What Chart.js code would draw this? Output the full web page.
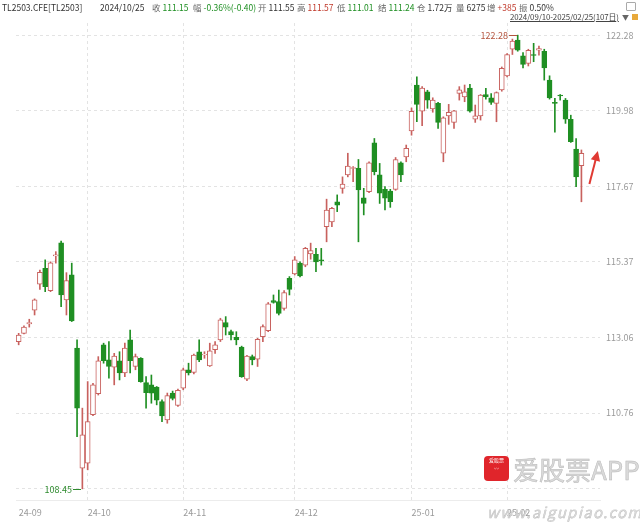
<!DOCTYPE html>
<html>
<head>
<meta charset="utf-8">
<script src="https://cdn.jsdelivr.net/npm/chart.js@4.4.1/dist/chart.umd.min.js"></script>
<style>
  html, body { margin: 0; padding: 0; background: #fff; }
  #wrap { position: relative; width: 640px; height: 527px; overflow: hidden;
          font-family: "Noto Sans CJK SC", "Noto Sans", sans-serif; }
  #kline { position: absolute; left: 0; top: 0; }
  .hd { position: absolute; top: 1px; font-size: 8.5px; line-height: 12px; color: #666; white-space: nowrap; }
  .hd span { margin-left: 2px; }
  .g { color: #1f8f23; }
  .r { color: #c0392b; }
  .k { color: #333; }
  #range { position: absolute; top: 11px; left: 510px; font-size: 7.9px; line-height: 12px; color: #444;
           text-decoration: underline; white-space: nowrap; letter-spacing: -0.1px; }
  #tri { position: absolute; top: 11px; left: 622px; font-size: 7px; line-height: 12px; color: #666; }
  #ico1 { position: absolute; top: 2px; left: 626px; width: 8px; height: 7px; border: 1px solid #aaa; border-radius: 1px; }
  #ico2 { position: absolute; top: 14px; left: 632px; width: 6px; height: 6px; background: #e8a93a; }
  #wm-icon { position: absolute; left: 484px; top: 456px; width: 25px; height: 25px; background: #e0252b;
             border-radius: 4px; color: #fff; font-size: 5px; line-height: 8px; text-align: center; }
  #wm-text { position: absolute; left: 513px; top: 452px; font-size: 26px; line-height: 34px; color: #dadada;
             -webkit-text-stroke: 0.5px #b8b8b8; white-space: nowrap; }
  #wm-url { position: absolute; left: 487px; top: 503px; font-size: 15px; line-height: 18px; color: #dcdcdc;
            -webkit-text-stroke: 0.4px #bbbbbb; letter-spacing: 1.3px; font-style: italic; white-space: nowrap; }
</style>
</head>
<body>
<div id="wrap">
  <canvas id="kline" width="640" height="527"></canvas>

  <span class="hd k" style="left:2px">TL2503.CFE[TL2503]</span>
  <span class="hd k" style="left:100px">2024/10/25</span>
  <span class="hd" style="left:152px">收<span class="g">111.15</span></span>
  <span class="hd" style="left:193px">幅<span class="g">-0.36%(-0.40)</span></span>
  <span class="hd" style="left:258px">开<span class="k">111.55</span></span>
  <span class="hd" style="left:297px">高<span class="r">111.57</span></span>
  <span class="hd" style="left:337px">低<span class="g">111.01</span></span>
  <span class="hd" style="left:378px">结<span class="g">111.24</span></span>
  <span class="hd" style="left:417px">仓<span class="k">1.72万</span></span>
  <span class="hd" style="left:456px">量<span class="k">6275</span></span>
  <span class="hd" style="left:487px">增<span class="r">+385</span></span>
  <span class="hd" style="left:519px">振<span class="k">0.50%</span></span>
  <div id="ico1"></div>
  <span id="range">2024/09/10-2025/02/25(107日)</span>
  <span id="tri">▼</span>
  <div id="ico2"></div>

  <div id="wm-icon">爱股票<br>〰</div>
  <span id="wm-text">爱股票APP</span>
  <span id="wm-url">www.aigupiao.com</span>
</div>

<script>
// trading days 2024/09/10 - 2025/02/25
const tradeDates = [
  '2024-09-10', '2024-09-11', '2024-09-12', '2024-09-13', '2024-09-18', '2024-09-19', '2024-09-20',
  '2024-09-23', '2024-09-24', '2024-09-25', '2024-09-26', '2024-09-27', '2024-09-30',
  '2024-10-08', '2024-10-09', '2024-10-10', '2024-10-11', '2024-10-14', '2024-10-15', '2024-10-16',
  '2024-10-17', '2024-10-18', '2024-10-21', '2024-10-22', '2024-10-23', '2024-10-24', '2024-10-25',
  '2024-10-28', '2024-10-29', '2024-10-30', '2024-10-31',
  '2024-11-01', '2024-11-04', '2024-11-05', '2024-11-06', '2024-11-07', '2024-11-08', '2024-11-11',
  '2024-11-12', '2024-11-13', '2024-11-14', '2024-11-15', '2024-11-18', '2024-11-19', '2024-11-20',
  '2024-11-21', '2024-11-22', '2024-11-25', '2024-11-26', '2024-11-27', '2024-11-28', '2024-11-29',
  '2024-12-02', '2024-12-03', '2024-12-04', '2024-12-05', '2024-12-06', '2024-12-09', '2024-12-10',
  '2024-12-11', '2024-12-12', '2024-12-13', '2024-12-16', '2024-12-17', '2024-12-18', '2024-12-19',
  '2024-12-20', '2024-12-23', '2024-12-24', '2024-12-25', '2024-12-26', '2024-12-27', '2024-12-30',
  '2024-12-31',
  '2025-01-02', '2025-01-03', '2025-01-06', '2025-01-07', '2025-01-08', '2025-01-09', '2025-01-10',
  '2025-01-13', '2025-01-14', '2025-01-15', '2025-01-16', '2025-01-17', '2025-01-20', '2025-01-21',
  '2025-01-22', '2025-01-23', '2025-01-24', '2025-01-27',
  '2025-02-05', '2025-02-06', '2025-02-07', '2025-02-10', '2025-02-11', '2025-02-12', '2025-02-13',
  '2025-02-14', '2025-02-17', '2025-02-18', '2025-02-19', '2025-02-20', '2025-02-21', '2025-02-24',
  '2025-02-25'
];

const opens = [
  112.94, 113.19, 113.48, 113.90, 114.69, 115.17, 114.49, 115.55, 115.95, 114.21, 114.97, 112.74, 109.08,
  109.23, 110.71, 111.35, 112.84, 112.38, 112.16, 112.35, 111.98, 112.99, 112.18, 112.43, 111.69, 111.62,
  111.55, 111.11, 110.55, 111.37, 110.99,
  111.52, 112.08, 112.00, 112.63, 112.53, 112.20, 112.69, 112.99, 113.52, 113.24, 113.07, 112.77, 111.79,
  112.48, 112.40, 113.09, 113.27, 114.19, 114.16, 113.95, 114.87,
  115.00, 115.33, 115.27, 115.61, 115.60, 115.43, 116.44, 116.59, 117.20, 117.61, 118.02, 118.22, 118.22,
  117.32, 117.51, 119.00, 118.02, 117.58, 117.53, 117.58, 118.39, 118.57,
  119.36, 120.76, 119.96, 120.55, 120.03, 120.20, 118.68, 119.82, 119.62, 120.50, 120.40, 120.67, 119.72,
  119.82, 120.47, 120.37, 120.20, 120.61,
  121.04, 121.85, 122.13, 121.65, 121.42, 121.69, 121.82, 121.79, 120.91, 120.23, 120.45, 120.30, 119.71,
  118.81, 118.30
];

const highs = [
  113.19, 113.42, 113.62, 114.24, 115.12, 115.43, 115.37, 115.68, 116.00, 115.04, 115.33, 112.99, 110.91,
  111.72, 111.67, 112.48, 112.89, 112.94, 112.58, 112.63, 112.89, 113.29, 112.56, 112.45, 111.87, 111.92,
  111.57, 111.16, 111.37, 111.43, 111.49,
  112.13, 112.28, 112.56, 112.99, 112.63, 112.89, 112.94, 113.65, 113.70, 113.29, 113.24, 112.80, 112.52,
  112.53, 113.04, 113.45, 114.13, 114.36, 114.51, 114.49, 114.92,
  115.53, 115.37, 115.81, 115.94, 115.78, 115.78, 117.28, 117.03, 117.41, 117.96, 118.68, 118.27, 118.49,
  117.61, 118.42, 119.13, 118.37, 117.66, 117.58, 118.55, 118.42, 118.93,
  120.06, 121.01, 120.71, 120.60, 120.37, 120.23, 119.79, 120.17, 119.99, 120.71, 120.76, 120.78, 120.15,
  120.47, 120.66, 120.50, 120.55, 121.31,
  121.72, 122.16, 122.28, 121.75, 121.85, 122.03, 121.95, 121.85, 121.04, 120.35, 120.47, 120.35, 119.84,
  119.13, 118.78
];

const lows = [
  112.84, 113.17, 113.38, 113.75, 114.53, 114.46, 114.46, 115.33, 114.00, 113.75, 113.55, 110.04, 108.45,
  109.03, 110.68, 111.31, 112.28, 111.82, 111.62, 111.77, 111.87, 111.98, 112.08, 111.70, 110.91, 111.06,
  111.01, 110.50, 110.45, 111.16, 110.96,
  111.47, 111.92, 111.95, 112.33, 112.43, 112.18, 112.58, 112.94, 113.14, 112.99, 112.84, 111.85, 111.75,
  112.23, 112.18, 112.94, 113.24, 114.11, 113.75, 113.90, 114.36,
  114.97, 114.91, 115.22, 115.45, 115.07, 115.27, 115.98, 116.44, 116.90, 117.46, 117.96, 117.81, 115.98,
  116.80, 117.48, 118.02, 117.15, 116.95, 117.03, 117.55, 117.81, 118.42,
  119.23, 119.64, 119.52, 120.05, 119.93, 119.44, 118.42, 119.56, 119.44, 120.30, 120.25, 119.93, 119.62,
  119.69, 120.33, 120.17, 119.64, 120.57,
  121.01, 121.69, 121.79, 121.28, 121.34, 121.47, 121.67, 120.91, 120.33, 119.32, 120.30, 119.59, 119.01,
  117.66, 117.20
];

const closes = [
  113.14, 113.38, 113.52, 114.21, 115.05, 114.61, 115.34, 115.58, 114.36, 114.80, 113.57, 110.91, 110.10,
  110.50, 111.62, 112.35, 112.36, 112.18, 112.50, 111.98, 112.74, 112.36, 112.48, 111.72, 111.38, 111.37,
  111.15, 110.67, 111.29, 111.21, 111.45,
  112.08, 111.98, 112.53, 112.38, 112.55, 112.66, 112.84, 113.60, 113.38, 113.14, 112.99, 111.87, 112.50,
  112.38, 113.01, 113.40, 114.09, 114.13, 113.80, 114.43, 114.53,
  115.43, 114.94, 115.78, 115.71, 115.37, 115.40, 116.95, 117.00, 117.10, 117.74, 118.29, 118.24, 117.56,
  117.15, 118.39, 118.12, 117.46, 117.31, 117.20, 118.49, 118.02, 118.83,
  119.96, 120.17, 120.67, 120.30, 120.30, 119.62, 119.76, 119.93, 119.97, 120.61, 120.55, 119.96, 119.82,
  120.45, 120.40, 120.23, 120.53, 121.27,
  121.69, 122.10, 121.82, 121.39, 121.82, 121.66, 121.87, 121.28, 120.37, 120.20, 120.43, 119.72, 119.03,
  117.96, 118.68
];

// right axis tick labels
const yTicks = [122.28, 119.98, 117.67, 115.37, 113.06, 110.76, 108.45];

const upColor = '#c8615e';
const downColor = '#1f8f23';
const gridColor = '#e3e3e3';
const fontFamily = '"Noto Sans CJK SC", "Noto Sans", sans-serif';

// 3 empty slots after the last day, like the app leaves
const labels = tradeDates.concat(['', '', '']);
const isUp = closes.map((c, i) => c >= opens[i]);

function monthStart(i) {
  if (i >= tradeDates.length) return false;
  return i === 0 || tradeDates[i].slice(5, 7) !== tradeDates[i - 1].slice(5, 7);
}

// highest / lowest price labels
const extremesPlugin = {
  id: 'extremes',
  afterDatasetsDraw(chart) {
    const { ctx, scales: { x, y } } = chart;
    const hiIdx = highs.indexOf(Math.max(...highs));
    const loIdx = lows.indexOf(Math.min(...lows));
    const marks = [
      [hiIdx, highs[hiIdx], '#b4553f'],
      [loIdx, lows[loIdx], '#2e8b2e']
    ];
    ctx.save();
    ctx.font = '9px ' + fontFamily;
    ctx.textAlign = 'right';
    ctx.textBaseline = 'middle';
    ctx.lineWidth = 1;
    marks.forEach(([i, v, col]) => {
      const px = Math.round(x.getPixelForValue(i));
      const py = Math.round(y.getPixelForValue(v)) + 0.5;
      ctx.strokeStyle = col;
      ctx.beginPath();
      ctx.moveTo(px - 9, py);
      ctx.lineTo(px - 1, py);
      ctx.stroke();
      ctx.fillStyle = col;
      ctx.fillText(v.toFixed(2), px - 10, py);
    });
    ctx.restore();
  }
};

// red arrow drawn next to the last candle
const arrowFrom = { i: 107.5, v: 117.74 };
const arrowTo = { i: 109.1, v: 118.75 };
const arrowPlugin = {
  id: 'arrow',
  afterDraw(chart) {
    const { ctx, scales: { x, y } } = chart;
    const x0 = x.getPixelForValue(arrowFrom.i), y0 = y.getPixelForValue(arrowFrom.v);
    const x1 = x.getPixelForValue(arrowTo.i), y1 = y.getPixelForValue(arrowTo.v);
    const ang = Math.atan2(y1 - y0, x1 - x0);
    const head = 11;
    ctx.save();
    ctx.strokeStyle = '#e03a33';
    ctx.fillStyle = '#e03a33';
    ctx.lineWidth = 2;
    ctx.beginPath();
    ctx.moveTo(x0, y0);
    ctx.lineTo(x1 - Math.cos(ang) * head * 0.8, y1 - Math.sin(ang) * head * 0.8);
    ctx.stroke();
    ctx.beginPath();
    ctx.moveTo(x1, y1);
    ctx.lineTo(x1 - head * Math.cos(ang - 0.45), y1 - head * Math.sin(ang - 0.45));
    ctx.lineTo(x1 - head * Math.cos(ang + 0.45), y1 - head * Math.sin(ang + 0.45));
    ctx.closePath();
    ctx.fill();
    ctx.restore();
  }
};

const chart = new Chart(document.getElementById('kline'), {
  type: 'bar',
  data: {
    labels: labels,
    datasets: [
      {
        label: 'body',
        data: opens.map((o, i) => [o, closes[i]]),
        backgroundColor: isUp.map(u => (u ? '#ffffff' : downColor)),
        borderColor: isUp.map(u => (u ? upColor : downColor)),
        borderWidth: 1,
        borderSkipped: false,
        barThickness: 5,
        grouped: false,
        order: 0
      },
      {
        label: 'wick',
        data: lows.map((l, i) => [l, highs[i]]),
        backgroundColor: isUp.map(u => (u ? upColor : downColor)),
        borderWidth: 0,
        barThickness: 1,
        grouped: false,
        order: 1
      }
    ]
  },
  options: {
    responsive: false,
    animation: false,
    layout: { padding: { left: 16, top: 23, right: 0, bottom: 0 } },
    plugins: { legend: { display: false }, tooltip: { enabled: false } },
    scales: {
      x: {
        offset: true,
        grid: {
          offset: false,
          drawTicks: false,
          color: ctx => (ctx.index > 0 && monthStart(ctx.index) ? gridColor : 'rgba(0,0,0,0)')
        },
        border: { display: true, color: '#ececec', dash: [3, 3] },
        ticks: {
          autoSkip: false,
          maxRotation: 0,
          align: 'start',
          padding: 7,
          color: '#9a9a9a',
          font: { size: 9, family: fontFamily },
          callback: (val, i) => (monthStart(i) ? tradeDates[i].slice(2, 4) + '-' + tradeDates[i].slice(5, 7) : '')
        },
        afterFit: s => { s.height = 27; }
      },
      y: {
        position: 'right',
        min: 108.11,
        max: 122.65,
        afterBuildTicks: s => { s.ticks = yTicks.map(v => ({ value: v })); },
        afterFit: s => { s.width = 40; },
        grid: { drawTicks: false, color: gridColor },
        border: { display: false, dash: [3, 3] },
        ticks: {
          padding: 6,
          color: '#9a9a9a',
          font: { size: 9, family: fontFamily },
          callback: v => (v === 108.45 ? '' : v.toFixed(2))
        }
      }
    }
  },
  plugins: [extremesPlugin, arrowPlugin]
});
</script>
</body>
</html>
